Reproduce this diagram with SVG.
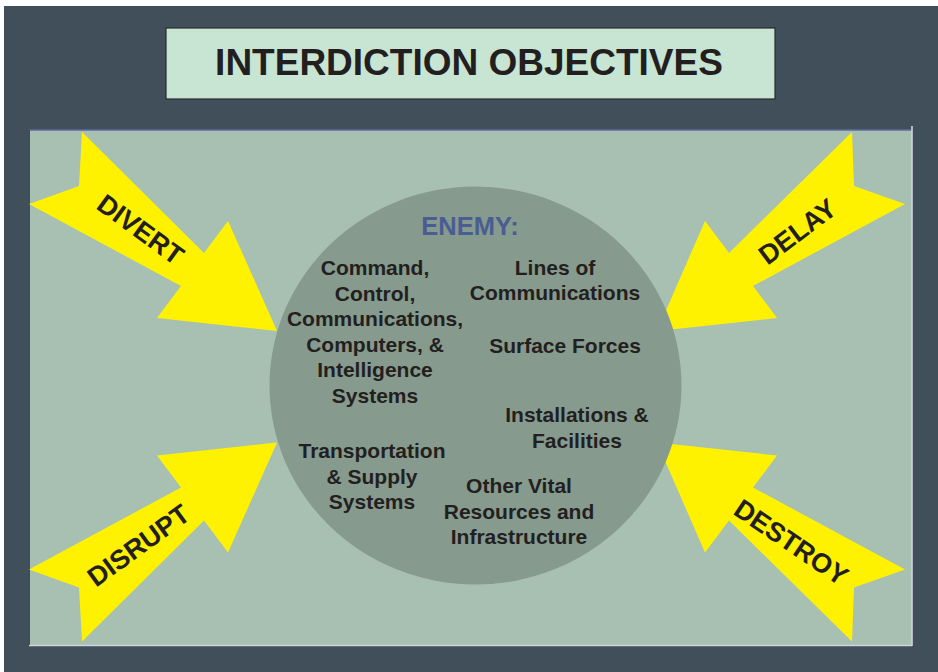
<svg xmlns="http://www.w3.org/2000/svg" width="938" height="672" viewBox="0 0 938 672">
  <style>
    .arrow { fill: #fff200; stroke: none; }
    .albl { font-family: "Liberation Sans", Arial, sans-serif; font-weight: bold; font-size: 27px; fill: #231f20; text-anchor: middle; }
    .item { font-family: "Liberation Sans", Arial, sans-serif; font-weight: bold; font-size: 21px; fill: #231f20; text-anchor: middle; }
  </style>
  <rect x="0" y="0" width="938" height="672" fill="#ffffff"/>
  <rect x="4" y="6" width="934" height="666" fill="#414f5a"/>

  <g id="title">
    <rect x="166" y="28" width="609" height="71" fill="#c8e5d3" stroke="#2a2a2a" stroke-width="1.2"/>
    <text x="469" y="75" font-family="'Liberation Sans', Arial, sans-serif" font-weight="bold" font-size="37" fill="#231f20" text-anchor="middle">INTERDICTION OBJECTIVES</text>
  </g>

  <g id="panel">
    <rect x="29" y="129.5" width="883" height="516" fill="#a7c0b1"/>
    <line x1="29" y1="130" x2="912" y2="130" stroke="#3b3f95" stroke-width="1.2"/>
    <line x1="29.5" y1="130" x2="29.5" y2="645.5" stroke="#3b3f95" stroke-width="1"/>
    <line x1="912" y1="126" x2="912" y2="646" stroke="#d0d4de" stroke-width="1.6"/>
    <line x1="29" y1="645.5" x2="912" y2="645.5" stroke="#d0d4de" stroke-width="1.6"/>
  </g>

  <g id="arrows">
    <g id="divert">
      <polygon class="arrow" points="82,132 79,186 29,204 181,286 157,318 277,331 228,221 204,253"/>
      <text class="albl" transform="translate(135,237) rotate(36)">DIVERT</text>
    </g>
    <g id="disrupt">
      <polygon class="arrow" points="82,641.5 79,587.5 29,569.5 181,487.5 157,455.5 277,442.5 228,552.5 204,520.5"/>
      <text class="albl" transform="translate(144,553) rotate(-36)">DISRUPT</text>
    </g>
    <g id="delay">
      <polygon class="arrow" points="852,132 854,186 905,204 753,286 777,318 657,331 705,221 729,253"/>
      <text class="albl" transform="translate(803,239) rotate(-37)">DELAY</text>
    </g>
    <g id="destroy">
      <polygon class="arrow" points="852,641.5 854,587.5 905,569.5 753,487.5 777,455.5 657,442.5 705,552.5 729,520.5"/>
      <text class="albl" transform="translate(786,550) rotate(34)">DESTROY</text>
    </g>
  </g>

  <g id="enemy">
    <ellipse cx="475.5" cy="385.5" rx="206" ry="199" fill="#869a8d"/>
    <text x="470" y="235" font-family="'Liberation Sans', Arial, sans-serif" font-weight="bold" font-size="25.5" fill="#4a5d92" text-anchor="middle">ENEMY:</text>
  </g>

  <g id="c4i">
    <text class="item" x="375" y="275">Command,</text>
    <text class="item" x="375" y="300.5">Control,</text>
    <text class="item" x="375" y="326">Communications,</text>
    <text class="item" x="375" y="351.5">Computers, &amp;</text>
    <text class="item" x="375" y="377">Intelligence</text>
    <text class="item" x="375" y="402.5">Systems</text>
  </g>
  <g id="loc">
    <text class="item" x="555" y="275">Lines of</text>
    <text class="item" x="555" y="299.5">Communications</text>
  </g>
  <g id="surface">
    <text class="item" x="565" y="352.5">Surface Forces</text>
  </g>
  <g id="installations">
    <text class="item" x="577" y="421.5">Installations &amp;</text>
    <text class="item" x="577" y="447.5">Facilities</text>
  </g>
  <g id="transport">
    <text class="item" x="372" y="458">Transportation</text>
    <text class="item" x="372" y="483.5">&amp; Supply</text>
    <text class="item" x="372" y="508.5">Systems</text>
  </g>
  <g id="other">
    <text class="item" x="519" y="493">Other Vital</text>
    <text class="item" x="519" y="518.5">Resources and</text>
    <text class="item" x="519" y="544">Infrastructure</text>
  </g>
</svg>
